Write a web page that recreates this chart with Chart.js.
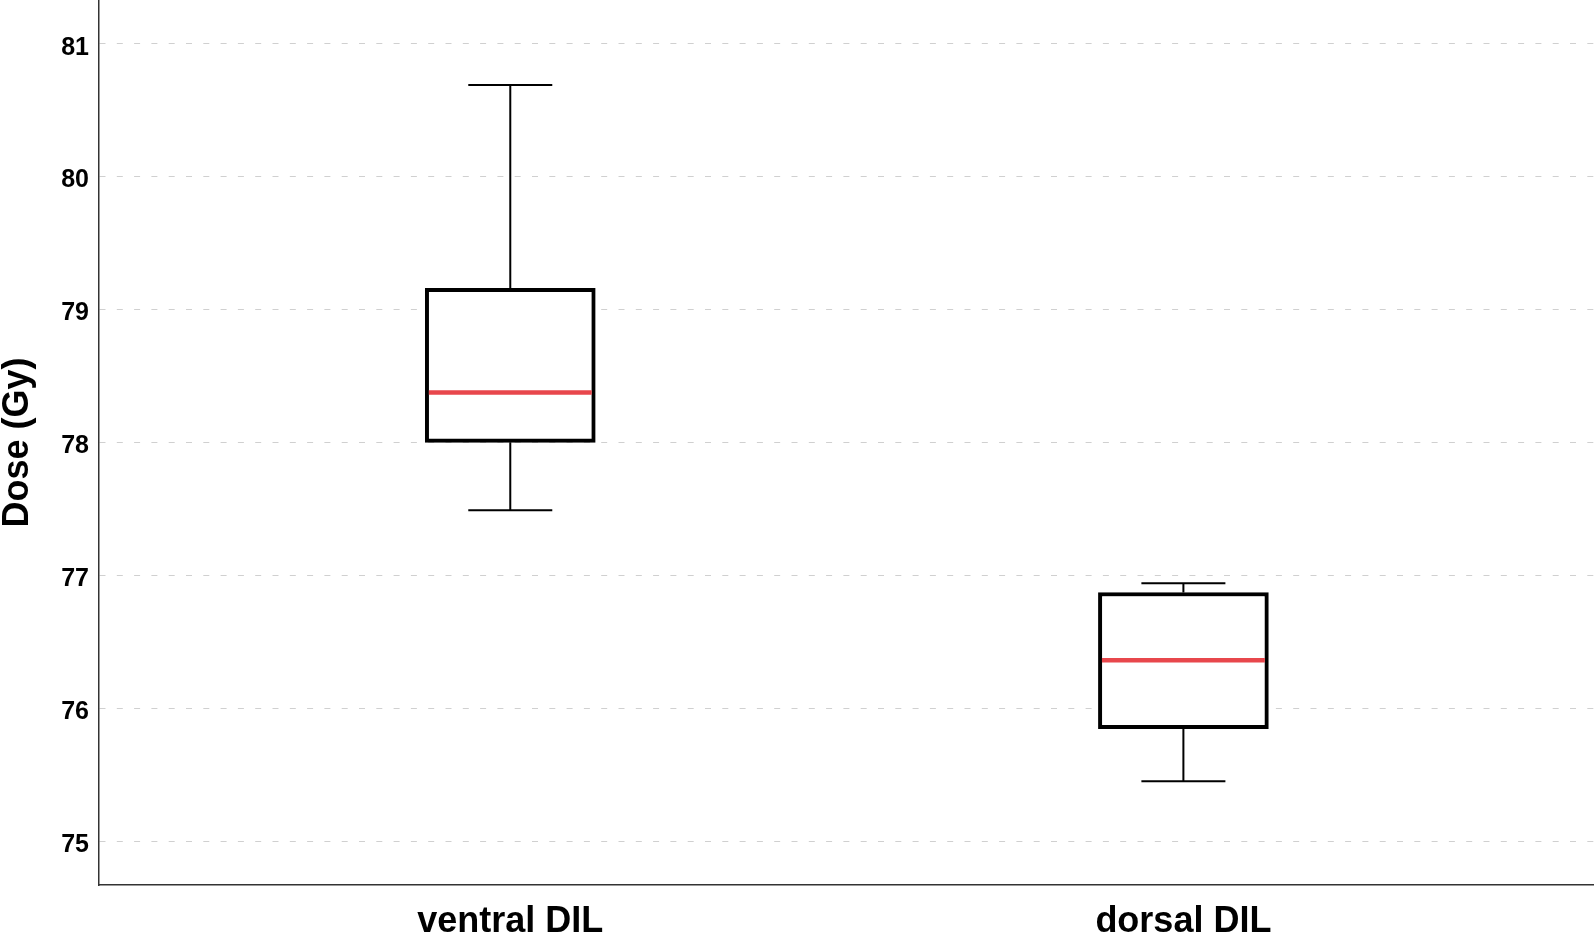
<!DOCTYPE html>
<html>
<head>
<meta charset="utf-8">
<script src="https://cdn.jsdelivr.net/npm/chart.js@4"></script>
<style>
  html, body { margin: 0; padding: 0; background: #fff; }
  canvas { display: block; }
</style>
</head>
<body>
<canvas id="boxChart" width="1594" height="932"></canvas>
<script>
const groups = ['ventral DIL', 'dorsal DIL'];
const whiskerLow = [77.49, 75.45];
const q1 = [78.0, 75.845];
const medians = [78.375, 76.36];
const q3 = [79.16, 76.87];
const whiskerHigh = [80.69, 76.94];
const yTicks = [75, 76, 77, 78, 79, 80, 81];

const fontFamily = '"Liberation Sans", Arial, Helvetica, sans-serif';
const capHalf = 0.0624;     // whisker cap half width, in x units
const medianHalf = 0.121;   // median line half width, in x units

const segment = (points, color, width, order) => ({
  type: 'line',
  data: points,
  borderColor: color,
  borderWidth: width,
  borderCapStyle: 'butt',
  pointRadius: 0,
  fill: false,
  tension: 0,
  order: order
});

const datasets = [{
  type: 'bar',
  data: groups.map((g, i) => ({ x: i + 1, y: [q1[i], q3[i]] })),
  backgroundColor: '#ffffff',
  borderColor: '#000000',
  borderWidth: 4,
  borderSkipped: false,
  barThickness: 170,
  order: 2
}];

groups.forEach((g, i) => {
  const x = i + 1;
  datasets.push(segment([{ x: x, y: q3[i] }, { x: x, y: whiskerHigh[i] }], '#000', 2, 3));
  datasets.push(segment([{ x: x, y: q1[i] }, { x: x, y: whiskerLow[i] }], '#000', 2, 3));
  datasets.push(segment([{ x: x - capHalf, y: whiskerHigh[i] }, { x: x + capHalf, y: whiskerHigh[i] }], '#000', 2, 1));
  datasets.push(segment([{ x: x - capHalf, y: whiskerLow[i] }, { x: x + capHalf, y: whiskerLow[i] }], '#000', 2, 1));
  datasets.push(segment([{ x: x - medianHalf, y: medians[i] }, { x: x + medianHalf, y: medians[i] }], '#e8474c', 4.5, 0));
});

new Chart(document.getElementById('boxChart').getContext('2d'), {
  type: 'bar',
  data: { datasets: datasets },
  options: {
    responsive: false,
    devicePixelRatio: 1,
    animation: false,
    layout: { padding: 0 },
    plugins: { legend: { display: false }, tooltip: { enabled: false } },
    scales: {
      x: {
        type: 'linear',
        min: 0.389,
        max: 2.61,
        offset: false,
        afterBuildTicks: s => { s.ticks = groups.map((g, i) => ({ value: i + 1 })); },
        afterFit: s => { s.height = 47; s.paddingLeft = 0; s.paddingRight = 0; },
        ticks: {
          callback: v => groups[Math.round(v) - 1] || '',
          font: { family: fontFamily, size: 36, weight: 'bold' },
          color: '#000',
          padding: 15,
          maxRotation: 0,
          autoSkip: false
        },
        grid: { display: false, drawTicks: false, offset: false },
        border: { display: true, color: '#333', width: 1.5 }
      },
      y: {
        min: 74.669,
        max: 81.329,
        afterBuildTicks: s => { s.ticks = yTicks.map(v => ({ value: v })); },
        afterFit: s => { s.width = 99; s.paddingTop = 0; s.paddingBottom = 0; },
        ticks: {
          font: { family: fontFamily, size: 25, weight: 'bold' },
          color: '#000',
          padding: 10,
          labelOffset: 4
        },
        grid: { color: '#d0d0d0', lineWidth: 1, drawTicks: false },
        border: { color: '#333', width: 1.5, dash: [6, 11.3] },
        title: {
          display: true,
          text: 'Dose (Gy)',
          color: '#000',
          font: { family: fontFamily, size: 36, weight: 'bold', lineHeight: 1 },
          padding: 0
        }
      }
    }
  }
});
</script>
</body>
</html>
